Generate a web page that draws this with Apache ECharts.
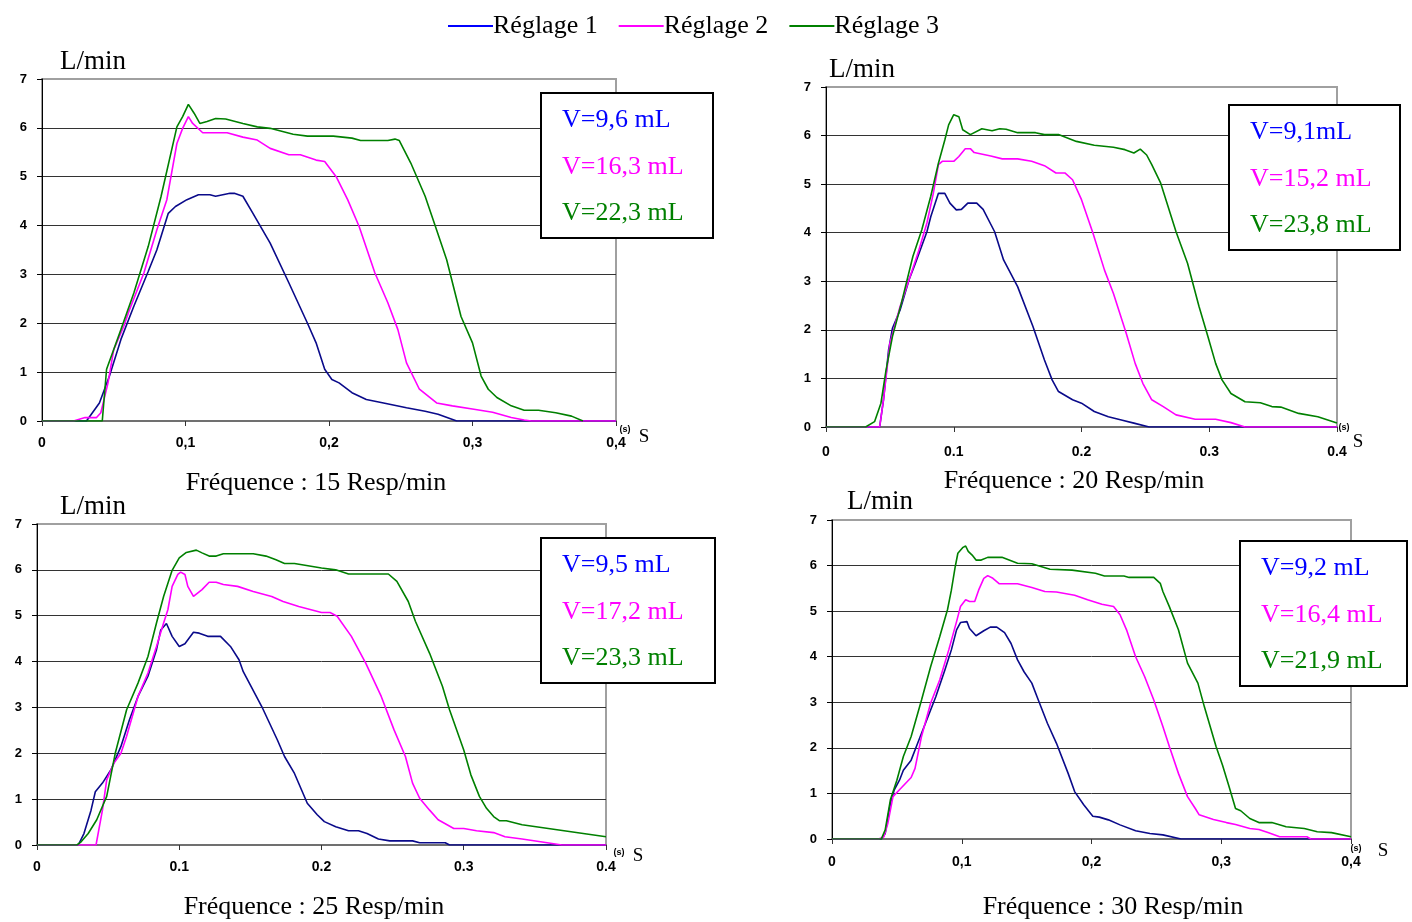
<!DOCTYPE html>
<html>
<head>
<meta charset="utf-8">
<title>Réglages</title>
<script src="https://cdn.jsdelivr.net/npm/echarts@6/dist/echarts.min.js"></script>
<style>
  html, body { margin: 0; padding: 0; background: #fff; }
  #chart { width: 1412px; height: 922px; }
</style>
</head>
<body>
<div id="chart"></div>
<script>
// Séries : [temps (s), débit (L/min)]
const reglageNames = ['Réglage 1', 'Réglage 2', 'Réglage 3'];
const xLabelsComma = ['0', '0,1', '0,2', '0,3', '0,4'];
const xLabelsDot = ['0', '0.1', '0.2', '0.3', '0.4'];
const yLabels = ['0', '1', '2', '3', '4', '5', '6', '7'];
const frequencies = ['Fréquence : 15 Resp/min', 'Fréquence : 20 Resp/min', 'Fréquence : 25 Resp/min', 'Fréquence : 30 Resp/min'];

const vol15 = ['V=9,6 mL', 'V=16,3 mL', 'V=22,3 mL'];
const vol20 = ['V=9,1mL', 'V=15,2 mL', 'V=23,8 mL'];
const vol25 = ['V=9,5 mL', 'V=17,2 mL', 'V=23,3 mL'];
const vol30 = ['V=9,2 mL', 'V=16,4 mL', 'V=21,9 mL'];

// 15 Resp/min
const r1f15 = [[0,0],[0.031,0],[0.040,0.37],[0.047,0.92],[0.055,1.67],[0.064,2.35],[0.074,3.06],[0.080,3.5],[0.088,4.25],[0.093,4.39],[0.101,4.53],[0.109,4.63],[0.117,4.63],[0.121,4.6],[0.131,4.66],[0.134,4.66],[0.140,4.6],[0.147,4.25],[0.159,3.64],[0.172,2.83],[0.185,2.0],[0.191,1.6],[0.197,1.06],[0.202,0.85],[0.207,0.78],[0.216,0.58],[0.226,0.44],[0.238,0.37],[0.254,0.27],[0.267,0.2],[0.276,0.14],[0.289,0],[0.4,0]];
const r2f15 = [[0,0],[0.022,0],[0.030,0.07],[0.038,0.07],[0.041,0.17],[0.046,0.78],[0.050,1.46],[0.057,1.94],[0.061,2.28],[0.071,3.03],[0.080,3.91],[0.087,4.53],[0.094,5.68],[0.098,5.99],[0.102,6.23],[0.105,6.09],[0.112,5.9],[0.129,5.9],[0.140,5.81],[0.150,5.75],[0.159,5.58],[0.172,5.45],[0.180,5.45],[0.191,5.34],[0.197,5.31],[0.205,5.0],[0.213,4.53],[0.221,3.98],[0.232,3.03],[0.241,2.42],[0.248,1.87],[0.254,1.19],[0.263,0.65],[0.275,0.37],[0.286,0.31],[0.301,0.24],[0.314,0.18],[0.327,0.07],[0.336,0.02],[0.341,0],[0.4,0]];
const r3f15 = [[0,0],[0.042,0],[0.045,1.06],[0.055,1.87],[0.064,2.62],[0.074,3.57],[0.083,4.6],[0.094,6.02],[0.098,6.23],[0.102,6.48],[0.106,6.3],[0.110,6.09],[0.115,6.13],[0.121,6.19],[0.128,6.18],[0.140,6.09],[0.150,6.02],[0.159,5.99],[0.175,5.87],[0.185,5.83],[0.203,5.83],[0.216,5.79],[0.222,5.74],[0.241,5.74],[0.246,5.77],[0.249,5.74],[0.257,5.28],[0.267,4.6],[0.275,3.91],[0.282,3.3],[0.292,2.14],[0.300,1.6],[0.306,0.92],[0.311,0.65],[0.317,0.48],[0.327,0.31],[0.336,0.22],[0.346,0.22],[0.358,0.17],[0.369,0.1],[0.377,0]];

// 20 Resp/min
const r1f20 = [[0,0],[0.042,0],[0.045,0.56],[0.049,1.59],[0.052,2.03],[0.058,2.41],[0.065,3.03],[0.070,3.37],[0.079,4.02],[0.082,4.33],[0.088,4.81],[0.093,4.81],[0.097,4.61],[0.102,4.47],[0.106,4.48],[0.111,4.61],[0.118,4.61],[0.123,4.48],[0.132,4.02],[0.139,3.44],[0.150,2.89],[0.162,2.07],[0.171,1.38],[0.177,0.97],[0.182,0.73],[0.193,0.56],[0.200,0.49],[0.210,0.32],[0.221,0.21],[0.232,0.14],[0.241,0.08],[0.253,0],[0.4,0]];
const r2f20 = [[0,0],[0.042,0],[0.045,0.56],[0.050,1.72],[0.058,2.48],[0.065,3.03],[0.072,3.58],[0.079,4.2],[0.084,4.81],[0.088,5.4],[0.091,5.47],[0.100,5.47],[0.104,5.57],[0.109,5.73],[0.113,5.73],[0.116,5.65],[0.129,5.58],[0.138,5.52],[0.150,5.52],[0.161,5.47],[0.171,5.38],[0.180,5.23],[0.187,5.23],[0.193,5.09],[0.200,4.68],[0.209,3.99],[0.218,3.23],[0.225,2.75],[0.235,1.93],[0.242,1.31],[0.248,0.9],[0.255,0.56],[0.264,0.42],[0.274,0.25],[0.289,0.16],[0.305,0.16],[0.317,0.09],[0.328,0],[0.4,0]];
const r3f20 = [[0,0],[0.031,0],[0.038,0.11],[0.043,0.49],[0.047,1.17],[0.052,1.86],[0.059,2.55],[0.068,3.51],[0.075,4.06],[0.082,4.75],[0.088,5.43],[0.093,5.91],[0.096,6.22],[0.100,6.43],[0.104,6.39],[0.107,6.12],[0.113,6.02],[0.122,6.14],[0.130,6.1],[0.136,6.14],[0.141,6.13],[0.150,6.06],[0.164,6.06],[0.171,6.02],[0.182,6.02],[0.196,5.88],[0.210,5.8],[0.225,5.76],[0.234,5.71],[0.241,5.64],[0.246,5.72],[0.251,5.6],[0.255,5.4],[0.262,5.02],[0.274,4.02],[0.283,3.37],[0.292,2.48],[0.299,1.86],[0.305,1.31],[0.310,0.97],[0.317,0.69],[0.328,0.52],[0.340,0.5],[0.349,0.42],[0.356,0.41],[0.370,0.28],[0.385,0.21],[0.4,0.08]];

// 25 Resp/min
const r1f25 = [[0,0],[0.029,0],[0.033,0.25],[0.038,0.76],[0.041,1.16],[0.046,1.35],[0.052,1.64],[0.059,2.15],[0.065,2.73],[0.071,3.24],[0.078,3.68],[0.084,4.26],[0.087,4.69],[0.091,4.83],[0.095,4.55],[0.100,4.33],[0.104,4.39],[0.110,4.64],[0.114,4.62],[0.120,4.55],[0.129,4.55],[0.136,4.33],[0.142,4.04],[0.145,3.78],[0.158,3.02],[0.169,2.29],[0.174,1.93],[0.181,1.56],[0.186,1.2],[0.190,0.91],[0.197,0.66],[0.202,0.51],[0.210,0.4],[0.219,0.31],[0.226,0.31],[0.232,0.25],[0.240,0.13],[0.248,0.09],[0.264,0.09],[0.269,0.05],[0.287,0.05],[0.290,0],[0.4,0]];
const r2f25 = [[0,0],[0.0415,0],[0.046,0.76],[0.049,1.42],[0.054,1.78],[0.059,2.0],[0.063,2.37],[0.071,3.24],[0.078,3.75],[0.084,4.33],[0.089,4.84],[0.092,5.13],[0.095,5.64],[0.099,5.9],[0.101,5.95],[0.104,5.9],[0.106,5.64],[0.110,5.42],[0.116,5.57],[0.121,5.73],[0.126,5.73],[0.131,5.68],[0.141,5.64],[0.152,5.53],[0.165,5.42],[0.173,5.31],[0.184,5.2],[0.200,5.07],[0.206,5.07],[0.211,4.99],[0.221,4.55],[0.231,3.97],[0.242,3.24],[0.251,2.51],[0.259,1.93],[0.264,1.35],[0.269,1.02],[0.276,0.76],[0.282,0.55],[0.293,0.36],[0.300,0.36],[0.309,0.31],[0.321,0.27],[0.329,0.18],[0.341,0.13],[0.354,0.07],[0.369,0],[0.4,0]];
const r3f25 = [[0,0],[0.028,0],[0.031,0.07],[0.036,0.25],[0.042,0.55],[0.049,1.06],[0.055,2.0],[0.063,2.95],[0.071,3.53],[0.078,4.11],[0.084,4.84],[0.089,5.42],[0.095,5.99],[0.100,6.26],[0.105,6.38],[0.112,6.43],[0.116,6.37],[0.121,6.3],[0.126,6.3],[0.131,6.35],[0.152,6.35],[0.161,6.3],[0.168,6.22],[0.174,6.14],[0.181,6.14],[0.200,6.04],[0.210,6.0],[0.219,5.91],[0.247,5.91],[0.253,5.75],[0.261,5.31],[0.266,4.88],[0.276,4.18],[0.285,3.46],[0.290,2.95],[0.300,2.07],[0.305,1.53],[0.311,1.06],[0.316,0.8],[0.321,0.62],[0.325,0.53],[0.330,0.53],[0.341,0.44],[0.4,0.18]];

// 30 Resp/min
const r1f30 = [[0,0],[0.038,0],[0.041,0.12],[0.045,0.78],[0.048,1.08],[0.052,1.29],[0.055,1.51],[0.061,1.73],[0.066,2.1],[0.073,2.61],[0.080,3.12],[0.087,3.71],[0.092,4.15],[0.096,4.59],[0.099,4.75],[0.104,4.77],[0.106,4.62],[0.111,4.46],[0.117,4.57],[0.122,4.65],[0.127,4.65],[0.133,4.53],[0.138,4.29],[0.143,3.93],[0.148,3.67],[0.154,3.42],[0.159,3.05],[0.166,2.54],[0.173,2.1],[0.182,1.44],[0.187,1.04],[0.194,0.75],[0.201,0.5],[0.206,0.48],[0.213,0.42],[0.222,0.31],[0.234,0.18],[0.245,0.12],[0.255,0.09],[0.269,0],[0.4,0]];
const r2f30 = [[0,0],[0.036,0],[0.040,0.05],[0.043,0.34],[0.047,0.93],[0.052,1.08],[0.061,1.35],[0.064,1.55],[0.069,2.25],[0.076,2.98],[0.083,3.49],[0.090,4.15],[0.096,4.77],[0.099,5.1],[0.103,5.25],[0.106,5.21],[0.110,5.21],[0.113,5.46],[0.117,5.72],[0.120,5.78],[0.124,5.72],[0.129,5.6],[0.143,5.6],[0.154,5.52],[0.164,5.43],[0.173,5.42],[0.187,5.35],[0.197,5.25],[0.208,5.15],[0.217,5.1],[0.222,4.92],[0.227,4.59],[0.234,4.0],[0.241,3.56],[0.248,3.05],[0.255,2.47],[0.260,2.03],[0.267,1.44],[0.274,0.93],[0.280,0.67],[0.283,0.53],[0.294,0.43],[0.304,0.36],[0.311,0.32],[0.322,0.23],[0.329,0.21],[0.336,0.14],[0.345,0.05],[0.366,0.05],[0.369,0],[0.4,0]];
const r3f30 = [[0,0],[0.038,0],[0.041,0.2],[0.045,0.86],[0.050,1.29],[0.055,1.81],[0.061,2.25],[0.069,3.05],[0.076,3.78],[0.083,4.44],[0.089,5.03],[0.092,5.46],[0.095,5.98],[0.097,6.27],[0.101,6.4],[0.103,6.43],[0.105,6.31],[0.108,6.23],[0.111,6.12],[0.115,6.12],[0.120,6.18],[0.131,6.18],[0.143,6.05],[0.154,6.04],[0.168,5.92],[0.185,5.9],[0.203,5.83],[0.210,5.77],[0.225,5.77],[0.229,5.74],[0.248,5.74],[0.253,5.61],[0.255,5.43],[0.260,5.1],[0.267,4.59],[0.274,3.86],[0.282,3.42],[0.287,2.9],[0.296,2.03],[0.301,1.62],[0.306,1.15],[0.311,0.67],[0.315,0.62],[0.322,0.45],[0.329,0.36],[0.339,0.36],[0.350,0.27],[0.364,0.23],[0.374,0.16],[0.385,0.14],[0.4,0.05]];

const lineColors = ['#0a0a8a', '#ff00ff', '#008000'];
const legendColors = ['#0000ff', '#ff00ff', '#008000'];

const panels = [
  { grid: { left: 42, top: 79, width: 574, height: 342 }, xLabels: xLabelsComma, data: [r1f15, r2f15, r3f15], vol: vol15, xMargin: 15,
    box: [541, 93, 172, 145], unit: [93, 62], title: [316, 483], s: [[625, 430], [644, 437]] },
  { grid: { left: 826, top: 87, width: 511, height: 340 }, xLabels: xLabelsDot, data: [r1f20, r2f20, r3f20], vol: vol20, xMargin: 18,
    box: [1229, 105, 171, 145], unit: [862, 70], title: [1074, 481], s: [[1344, 428], [1358, 442]] },
  { grid: { left: 37, top: 524, width: 569, height: 321 }, xLabels: xLabelsDot, data: [r1f25, r2f25, r3f25], vol: vol25, xMargin: 15,
    box: [541, 538, 174, 145], unit: [93, 507], title: [314, 907], s: [[619, 853], [638, 856]] },
  { grid: { left: 832, top: 520, width: 519, height: 319 }, xLabels: xLabelsComma, data: [r1f30, r2f30, r3f30], vol: vol30, xMargin: 16,
    box: [1240, 541, 167, 145], unit: [880, 502], title: [1113, 907], s: [[1356, 849], [1383, 851]] },
];

const serif = '"Liberation Serif", "Times New Roman", serif';
const sans = '"Liberation Sans", Arial, sans-serif';

const grids = [];
const xAxes = [];
const yAxes = [];
const series = [];
const graphics = [];

panels.forEach((p, i) => {
  grids.push(Object.assign({ show: true, borderColor: '#a0a0a0', borderWidth: 2, backgroundColor: '#fff' }, p.grid));

  xAxes.push({
    type: 'value', gridIndex: i, min: 0, max: 0.4, interval: 0.1,
    axisLine: { lineStyle: { color: '#707070', width: 2 } },
    axisTick: { show: true, length: 5, lineStyle: { color: '#333' } },
    axisLabel: {
      color: '#000', fontFamily: sans, fontWeight: 'bold', fontSize: 14, margin: p.xMargin,
      formatter: v => p.xLabels[Math.round(v * 10)],
    },
    splitLine: { show: false },
  });

  yAxes.push({
    type: 'value', gridIndex: i, min: 0, max: 7, interval: 1,
    axisLine: { show: true, lineStyle: { color: '#000', width: 1 } },
    axisTick: { show: true, length: 5, lineStyle: { color: '#000' } },
    axisLabel: {
      color: '#000', fontFamily: sans, fontWeight: 'bold', fontSize: 13, margin: 15,
      formatter: v => yLabels[Math.round(v)],
    },
    splitLine: { show: true, lineStyle: { color: ['#333', '#333', '#333', '#333', '#333', '#333', '#333', '#a0a0a0'], width: 1 } },
  });

  p.data.forEach((d, k) => {
    series.push({
      name: reglageNames[k], type: 'line', xAxisIndex: i, yAxisIndex: i,
      data: d, showSymbol: false, symbol: 'none', smooth: false,
      lineStyle: { color: lineColors[k], width: 1.6 },
      itemStyle: { color: lineColors[k] },
      emphasis: { disabled: true },
    });
  });

  // cadre des volumes
  const [bx, by, bw, bh] = p.box;
  graphics.push({
    type: 'rect', z: 100,
    shape: { x: bx, y: by, width: bw, height: bh },
    style: { fill: '#fff', stroke: '#000', lineWidth: 2 },
  });
  [27, 74, 120].forEach((dy, k) => {
    graphics.push({
      type: 'text', z: 101, x: bx + 21, y: by + dy,
      style: {
        text: p.vol[k], fill: legendColors[k], font: `26px ${serif}`,
        align: 'left', verticalAlign: 'middle',
        textShadowColor: 'rgba(120,120,120,0.7)', textShadowOffsetX: 2, textShadowOffsetY: 2, textShadowBlur: 0,
      },
    });
  });

  graphics.push({
    type: 'text', x: p.unit[0], y: p.unit[1],
    style: { text: 'L/min', fill: '#000', font: `27px ${serif}`, align: 'center', verticalAlign: 'middle' },
  });
  graphics.push({
    type: 'text', x: p.title[0], y: p.title[1],
    style: { text: frequencies[i], fill: '#000', font: `26px ${serif}`, align: 'center', verticalAlign: 'middle' },
  });
  graphics.push({
    type: 'text', x: p.s[0][0], y: p.s[0][1],
    style: { text: '(s)', fill: '#000', font: `bold 9px ${sans}`, align: 'center', verticalAlign: 'middle' },
  });
  graphics.push({
    type: 'text', x: p.s[1][0], y: p.s[1][1],
    style: { text: 'S', fill: '#000', font: `19px ${serif}`, align: 'center', verticalAlign: 'middle' },
  });
});

const chart = echarts.init(document.getElementById('chart'), null, { renderer: 'canvas' });
chart.setOption({
  animation: false,
  backgroundColor: '#fff',
  legend: {
    top: 8, left: 443, icon: 'rect', itemWidth: 45, itemHeight: 2, itemGap: 21,
    textStyle: { fontFamily: serif, fontSize: 26, color: '#000', padding: [0, 0, 0, -5] },
    data: reglageNames.map((n, k) => ({ name: n, itemStyle: { color: legendColors[k] } })),
    selectedMode: false,
  },
  grid: grids,
  xAxis: xAxes,
  yAxis: yAxes,
  series,
  graphic: graphics,
});
</script>
</body>
</html>
